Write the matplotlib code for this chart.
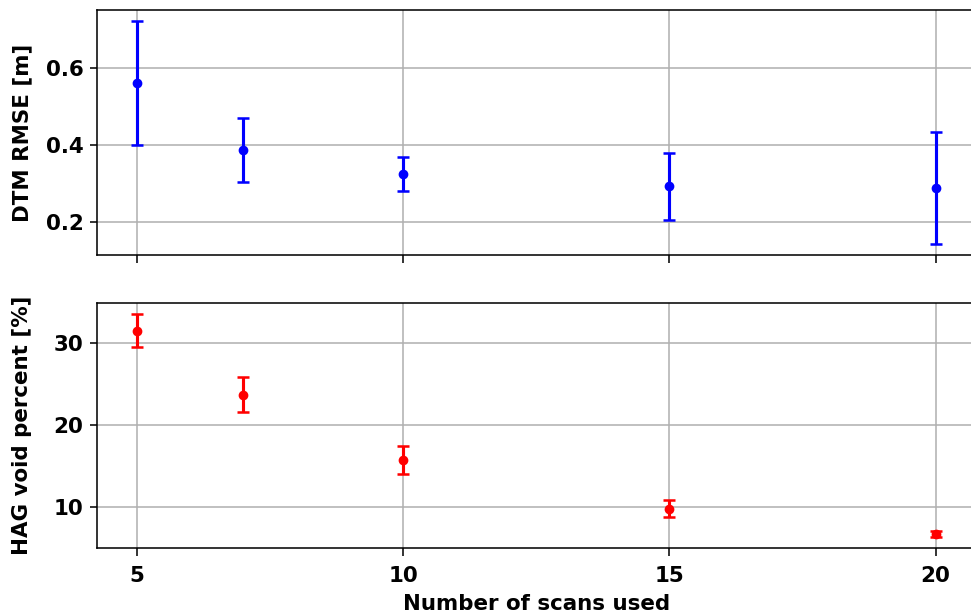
import matplotlib
matplotlib.use('Agg')
import matplotlib.pyplot as plt

plt.rcParams['font.weight'] = 'bold'
plt.rcParams['axes.labelweight'] = 'bold'
plt.rcParams['font.size'] = 11
plt.rcParams['xtick.major.pad'] = 5.5
plt.rcParams['xtick.major.size'] = 4

scans = [5, 7, 10, 15, 20]
dtm_rmse = [0.56, 0.387, 0.325, 0.292, 0.288]
dtm_std = [0.161, 0.083, 0.044, 0.087, 0.145]
hag_void = [31.5, 23.7, 15.75, 9.8, 6.7]
hag_std = [2.0, 2.15, 1.7, 1.05, 0.35]

fig, (ax1, ax2) = plt.subplots(2, 1, sharex=True, figsize=(971 / 140, 616 / 140), dpi=140)
fig.subplots_adjust(left=0.0999, right=1.0047, top=0.9838, bottom=0.1104, hspace=0.196)

# RMSE of the terrain model
ax1.errorbar(scans, dtm_rmse, yerr=dtm_std, fmt='o', color='b', ecolor='b',
             elinewidth=1.6, capsize=3.3, capthick=1.3, markersize=4)
ax1.set_ylabel('DTM RMSE [m]', labelpad=7)
ax1.set_yticks([0.2, 0.4, 0.6])
ax1.grid(True)

# share of empty cells in the height-above-ground grid
ax2.errorbar(scans, hag_void, yerr=hag_std, fmt='o', color='r', ecolor='r',
             elinewidth=1.6, capsize=3.3, capthick=1.3, markersize=4)
ax2.set_ylabel('HAG void percent [%]', labelpad=7)
ax2.set_xlabel('Number of scans used')
ax2.set_xticks([5, 10, 15, 20])
ax2.set_yticks([10, 20, 30])
ax2.grid(True)

fig.align_ylabels([ax1, ax2])

plt.savefig('out.png', dpi=140)
